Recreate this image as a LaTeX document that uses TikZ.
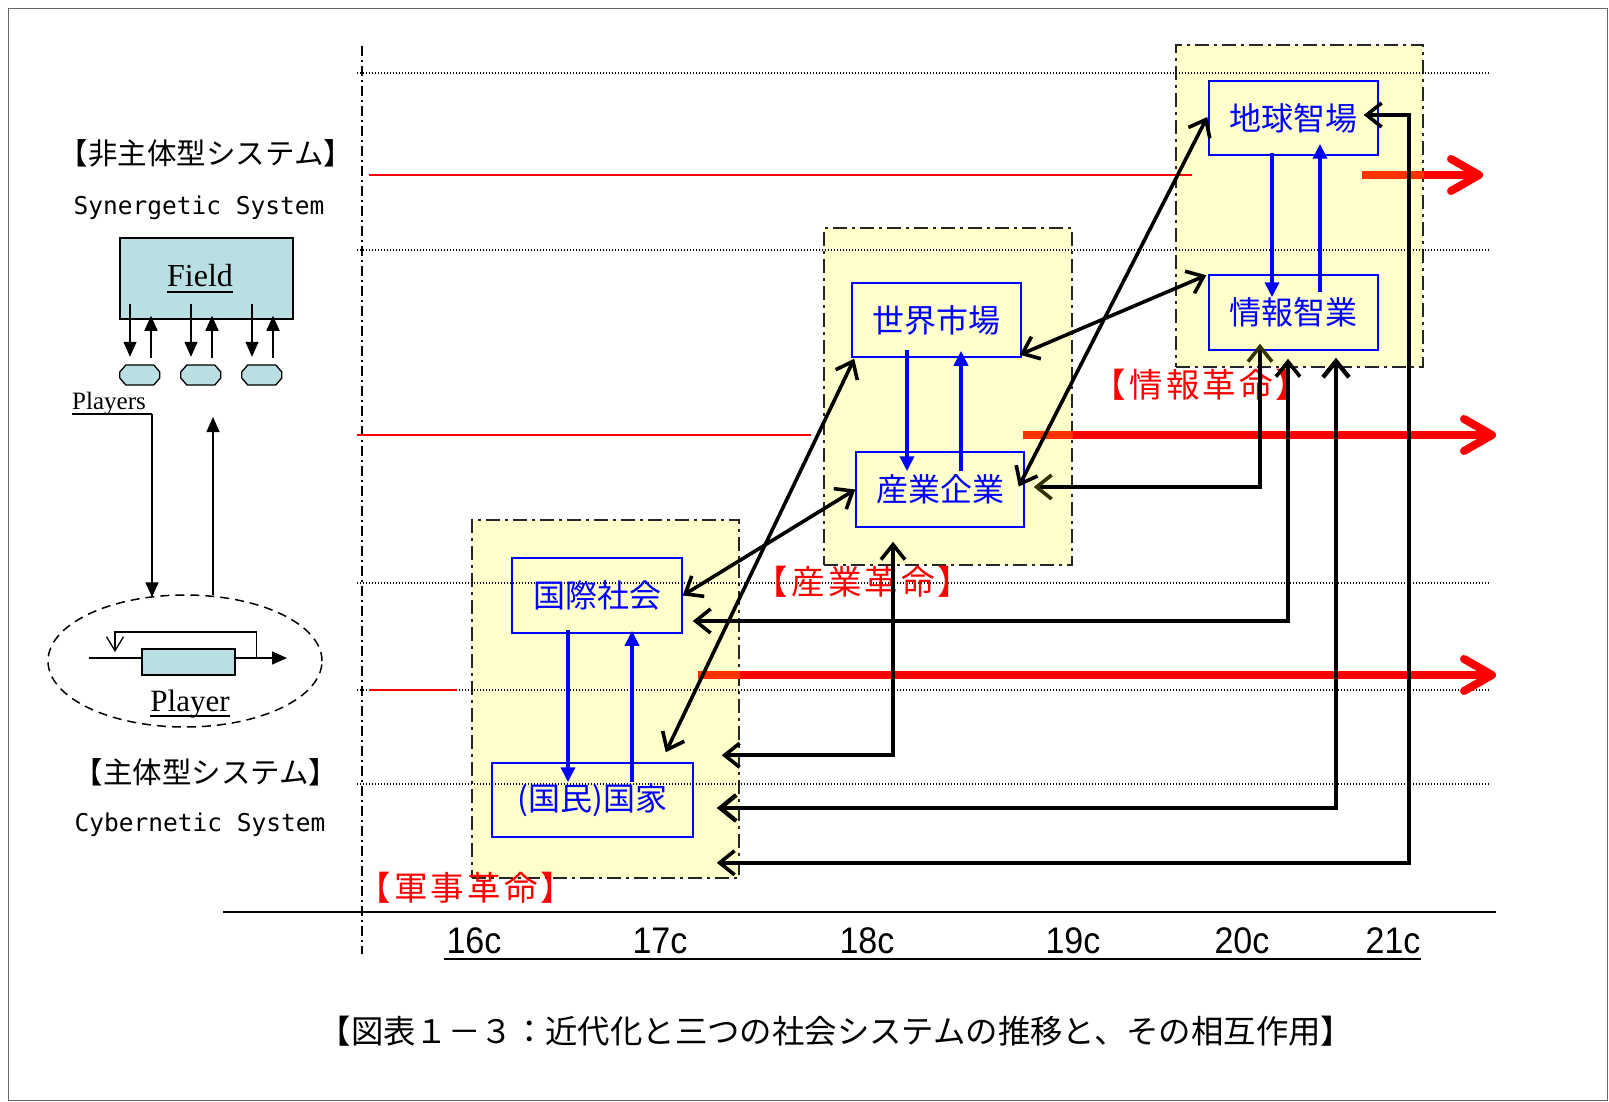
\documentclass[tikz,border=0pt]{standalone}
\usepackage{fontspec}
\setmainfont{Liberation Serif}
\newfontfamily\jp{Noto Sans CJK JP}
\newfontfamily\jpr[LetterSpace=9]{Noto Sans CJK JP}
\newfontfamily\monof{DejaVu Sans Mono}
\newfontfamily\narrowf[FakeStretch=0.92]{Liberation Sans}
\usetikzlibrary{arrows.meta,shapes.geometric,calc}
\definecolor{fieldblue}{HTML}{B9DFE3}
\definecolor{lyellow}{HTML}{FFFFCC}
\definecolor{darkol}{HTML}{333300}
\definecolor{orred}{HTML}{FF3300}
\begin{document}
\begin{tikzpicture}[x=1pt,y=-1pt,
  ybox/.style={draw=black!85, fill=lyellow, line width=2pt, dash pattern=on 14pt off 5pt on 3pt off 5pt, inner sep=0pt},
  jbox/.style={draw=blue, line width=1.5pt, text=blue, inner sep=0pt, minimum height=75pt, font=\jp\fontsize{32}{38}\selectfont},
  redlab/.style={text=red, inner sep=0pt, font=\jpr\fontsize{33.5}{40}\selectfont},
  blacklab/.style={inner sep=0pt, font=\jp\fontsize{29.5}{34}\selectfont},
  monolab/.style={inner sep=0pt, font=\monof\fontsize{24.5}{28}\selectfont},
  cent/.style={inner sep=0pt, font=\narrowf\fontsize{37}{42}\selectfont},
  dotline/.style={line width=1.2pt, dash pattern=on 1.2pt off 1.8pt},
  redthin/.style={red, line width=1.5pt},
  redar/.style={red, line width=8pt, -{Straight Barb[length=28pt,width=32pt,round]}},
  orseg/.style={orred, line width=8pt},
  bluar/.style={blue, line width=4.2pt, -{Triangle[length=15pt,width=14pt]}},
  blk/.style={line width=3.6pt, {Straight Barb[length=15pt,width=24pt]}-{Straight Barb[length=15pt,width=24pt]}},
  blk3/.style={line width=3.6pt, {Straight Barb[length=15pt,width=24pt]}-{Straight Barb[length=15pt,width=24pt]}},
  blk4/.style={line width=4.4pt, {Straight Barb[length=16pt,width=26pt]}-{Straight Barb[length=16pt,width=26pt]}},
  blkol/.style={line width=3.6pt, {Straight Barb[length=15pt,width=24pt,color=darkol]}-{Straight Barb[length=15pt,width=24pt,color=darkol]}},
  smarr/.style={line width=1.3pt, -{Triangle[length=15pt,width=13pt]}},
  capsbox/.style={minimum width=40pt, minimum height=20pt, inner sep=0pt},
  lightbox/.style={draw, fill=fieldblue, line width=1.5pt, inner sep=0pt}
]
\useasboundingbox (0,0) rectangle (1609,1102);
\fill[white] (0,0) rectangle (1609,1102);
\draw[black!60, line width=1pt] (8.5,8.5) rectangle (1607.5,1100.5);

% ---------- left panel ----------
\node[blacklab] (nonsub) at (206,153) {【非主体型システム】};
\node[monolab] (syn) at (199,208) {Synergetic System};
\node[lightbox, minimum width=173pt, minimum height=81pt] (field) at (206.5,278.5) {};
\node[font=\fontsize{32}{38}\selectfont, inner sep=0pt, anchor=base] (fieldtxt) at (200,286) {Field};
\draw[line width=1.4pt] ($(fieldtxt.base west)+(0,6)$) -- ($(fieldtxt.base east)+(0,6)$);
\foreach \i/\cx in {1/140,2/201,3/262}{
  \node[capsbox] (p\i) at (\cx,375) {};
  \filldraw[fill=fieldblue, line width=1.3pt, line join=round]
    ($(p\i.west)+(0,-3)$) -- ++(6,-7) -- ++(28,0) -- ++(6,7) -- ++(0,6) -- ++(-6,7) -- ++(-28,0) -- ++(-6,-7) -- cycle;
  \draw[smarr] ($(field.south)+(\cx-216.5,-16)$) -- ($(p\i.north)+(-10,-8)$);
  \draw[smarr] ($(p\i.north)+(11,-7)$) -- ($(field.south)+(\cx-195.5,-4)$);
}
\node[font=\fontsize{25}{30}\selectfont, inner sep=0pt, anchor=base west] (players) at (72,409) {Players};
\coordinate (pcorner) at (152,414);
\node[draw, ellipse, line width=1.5pt, dash pattern=on 9pt off 6pt, minimum width=274pt, minimum height=132pt, inner sep=0pt] (ell) at (185,661) {};
\draw[line width=1.3pt] (players.base west |- pcorner) -- (pcorner);
\draw[smarr] (pcorner) -- ($(pcorner |- ell.north)+(0,3)$);
\coordinate (uptip) at (213,417);
\draw[smarr] ($(uptip |- ell.north)+(0,1)$) -- (uptip);
\node[lightbox, minimum width=93pt, minimum height=26pt] (pbox) at (188.5,662) {};
\coordinate (pin) at (89,658);
\coordinate (pout) at (287,658);
\draw[line width=1.3pt] (pin) -- (pin -| pbox.west);
\draw[smarr] (pin -| pbox.east) -- (pout);
\draw[line width=1.3pt, -{Straight Barb[length=14pt,width=17pt]}] ($(pin -| pbox.east)+(21,0)$) -- ++(0,-26) -| ($(pin)+(26,-6)$);
\node[font=\fontsize{31}{36}\selectfont, inner sep=0pt, anchor=base] (playertxt) at (190,711) {Player};
\draw[line width=1.4pt] ($(playertxt.base west)+(0,5)$) -- ($(playertxt.base east)+(0,5)$);
\node[blacklab] (sub) at (206,772) {【主体型システム】};
\node[monolab] (cyb) at (200,825) {Cybernetic System};

% ---------- regions ----------
\node[ybox, minimum width=267pt, minimum height=358pt] (gunjireg) at (605.5,699) {};
\node[ybox, minimum width=248pt, minimum height=337pt] (sangyoreg) at (948,396.5) {};
\node[ybox, minimum width=247pt, minimum height=322pt] (johoreg) at (1299.5,206) {};

% ---------- grid ----------
\foreach \yy in {73,250,583,690,784} \draw[dotline] (357,\yy) -- (1490,\yy);
\draw[line width=1.2pt, dash pattern=on 10pt off 4pt on 2pt off 4pt] (362,46) -- (362,954);
\draw[redthin] (369,175) -- (1192,175);
\draw[redthin] (357,435) -- (811,435);
\draw[redthin] (369,690) -- (457,690);

% thick red arrows
\draw[redar] (1362,175) -- (1483,175);
\draw[orseg] (1362,175) -- (johoreg.east |- 0,175);
\draw[redar] (1023,435) -- (1496,435);
\draw[orseg] (1023,435) -- (sangyoreg.east |- 0,435);
\draw[redar] (698,675) -- (1496,675);
\draw[orseg] (698,675) -- (gunjireg.east |- 0,675);

% axis
\draw[line width=2pt] (223,912) -- (1496,912);
\foreach \lab/\xx in {16c/474,17c/660,18c/867,19c/1073,20c/1242,21c/1393}
  \node[cent] (c\lab) at (\xx,941) {\lab};
\draw[line width=2.5pt] (444,959) -- (1421,959);

% red labels
\node[redlab] (lgunji) at (466,888) {【軍事革命】};
\node[redlab] (lsangyo) at (863,582) {【産業革命】};
\node[redlab] (ljoho) at (1201,385) {【情報革命】};

% ---------- boxes ----------
\node[jbox, minimum width=170pt] (kokusai) at (597,595.5) {国際社会};
\node[jbox, minimum width=201pt, minimum height=74pt] (kokka) at (592.5,800) {(国民)国家};
\node[jbox, minimum width=169pt, minimum height=74pt] (sekai) at (936.5,320) {世界市場};
\node[jbox, minimum width=168pt] (sangyo) at (940,489.5) {産業企業};
\node[jbox, minimum width=169pt, minimum height=74pt] (chikyu) at (1293.5,118) {地球智場};
\node[jbox, minimum width=169pt] (joho) at (1293.5,312.5) {情報智業};

% blue arrows
\draw[bluar] ($(kokusai.south)+(-29,-4)$) -- ($(kokka.north)+(-24.5,20)$);
\draw[bluar] ($(kokka.north)+(39.5,20)$) -- ($(kokusai.south)+(35,-3)$);
\draw[bluar] ($(sekai.south)+(-29.5,-8)$) -- ($(sangyo.north)+(-33,20)$);
\draw[bluar] ($(sangyo.north)+(21,20)$) -- ($(sekai.south)+(24.5,-7)$);
\draw[bluar] ($(chikyu.south)+(-21.5,-3)$) -- ($(joho.north)+(-21.5,23)$);
\draw[bluar] ($(joho.north)+(26.5,18)$) -- ($(chikyu.south)+(26.5,-12)$);

% black diagonal connectors
\draw[blk] (kokusai.east) -- (sangyo.west);
\draw[blk] ($(kokka.north east)+(-28,-10)$) -- ($(sekai.south west)+(3,1)$);
\draw[blk] ($(sekai.south east)+(-2,-3)$) -- ($(joho.north west)+(-2,1)$);
\draw[blk] ($(sangyo.east)+(-6,-3)$) -- ($(chikyu.west)+(-1,-1)$);

% elbow connectors
\draw[blkol] ($(joho.south)+(-33.5,-7)$) |- ($(sangyo.east)+(9,-2.5)$);
\draw[blk3] ($(joho.south)+(-5.5,8)$) |- ($(kokusai.east)+(10,25.5)$);
\draw[blk4] ($(joho.south)+(42.5,7)$) |- ($(kokka.east)+(23,8)$);
\draw[blk3] ($(chikyu.east)+(-15,-3)$) -- ++(45,0) |- ($(kokka.south east)+(23,25)$);
\draw[blk3] ($(sangyo.south)+(-47,14)$) |- ($(kokka.north east)+(28,-7)$);

% caption
\node[inner sep=0pt, font=\jp\fontsize{32.4}{38}\selectfont] (caption) at (836,1031) {【図表１－３：近代化と三つの社会システムの推移と、その相互作用】};
\end{tikzpicture}
\end{document}
